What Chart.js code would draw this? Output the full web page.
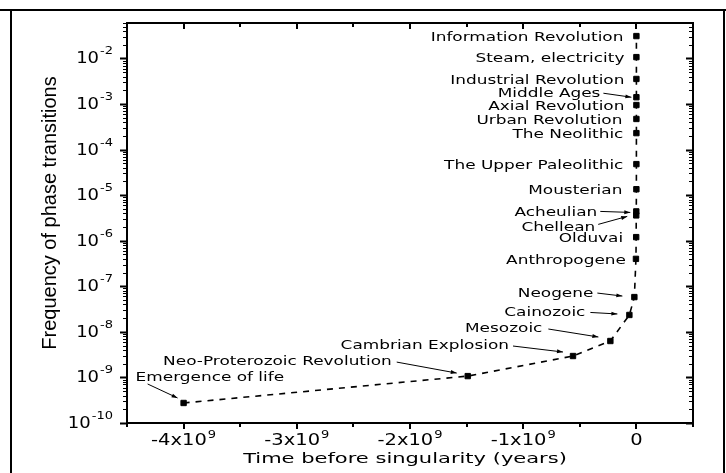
<!DOCTYPE html>
<html>
<head>
<meta charset="utf-8">
<script src="https://cdn.jsdelivr.net/npm/chart.js@4.4.1/dist/chart.umd.min.js"></script>
<style>
html,body{margin:0;padding:0;background:#fff;}
#wrap{position:relative;width:726px;height:473px;}
</style>
</head>
<body>
<div id="wrap"><canvas id="c"></canvas></div>
<script>
// ---------- data ----------
const eventNames = ['Emergence of life','Neo-Proterozoic Revolution','Cambrian Explosion','Mesozoic','Cainozoic','Neogene','Anthropogene','Olduvai','Chellean','Acheulian','Mousterian','The Upper Paleolithic','The Neolithic','Urban Revolution','Axial Revolution','Middle Ages','Industrial Revolution','Steam, electricity','Information Revolution'];
const eventTimes = [-4.0e9,-1.49e9,-5.6e8,-2.3e8,-6.2e7,-1.8e7,-4e6,-2e6,-1.5e6,-1e6,-1.5e5,-4e4,-1e4,-5e3,-2.5e3,-1.2e3,-250,-120,-50];
const eventFreqs = [2.75e-10,1.07e-9,2.95e-9,6.3e-9,2.35e-8,5.8e-8,4.0e-7,1.2e-6,3.6e-6,4.4e-6,1.35e-5,4.8e-5,2.3e-4,4.7e-4,9.5e-4,1.41e-3,3.55e-3,1.07e-2,3.1e-2];
const xTickValues = [-4e9,-3e9,-2e9,-1e9,0];
const xTickBase = ['-4x10','-3x10','-2x10','-1x10','0'];
const xTickExp = ['9','9','9','9',''];
const yTickValues = [1e-10,1e-9,1e-8,1e-7,1e-6,1e-5,1e-4,1e-3,1e-2];
const yTickExp = ['-10','-9','-8','-7','-6','-5','-4','-3','-2'];
const xTitle = 'Time before singularity (years)';
const yTitle = 'Frequency of phase transitions';

// ---------- label layout (offsets from each marker, px) ----------
// [align, textX, textY, arrowX1, arrowY1, arrowX2, arrowY2]  (arrow omitted when null)
const labelLayout = [
  ['left', -48, -27, -36, -19, -6, -5],
  ['right', -76, -16, -71, -14, -11, -3],
  ['right', -64, -12, -60, -10, -10, -4],
  ['right', -68, -14, -62, -12, -12, -4],
  ['right', -44, -4, -39, -2.5, -12, -1],
  ['right', -41, -5, -37, -4, -12, -1],
  ['right', -10, 0, null],
  ['right', -13, 0, null],
  ['right', -41, 11, -38, 9, -9, 1],
  ['right', -39, 0, -36, 0, -6, 1],
  ['right', -14, 0, null],
  ['right', -13, 0, null],
  ['right', -13, 0, null],
  ['right', -14, 0, null],
  ['right', -12, 0, null],
  ['right', -36, -5, -33, -4, -5, 0],
  ['right', -12, 0, null],
  ['right', -12, 0, null],
  ['right', -13, 0, null]
];

const FONT = '"DejaVu Sans", Verdana, sans-serif';

function stretchText(ctx, s, x, y, font, align, sx) {
  ctx.save();
  ctx.font = font;
  ctx.textBaseline = 'alphabetic';
  ctx.textAlign = 'left';
  const w = ctx.measureText(s).width * sx;
  let x0 = x;
  if (align === 'right') x0 = x - w;
  else if (align === 'center') x0 = x - w / 2;
  ctx.translate(x0, y);
  ctx.scale(sx, 1);
  ctx.fillText(s, 0, 0);
  ctx.restore();
  return w;
}
function textWidth(ctx, s, font, sx) {
  ctx.save(); ctx.font = font; const w = ctx.measureText(s).width * sx; ctx.restore(); return w;
}
function arrow(ctx, x1, y1, x2, y2) {
  ctx.beginPath(); ctx.moveTo(x1, y1); ctx.lineTo(x2, y2); ctx.stroke();
  const a = Math.atan2(y2 - y1, x2 - x1), L = 6, W = 2;
  ctx.beginPath();
  ctx.moveTo(x2, y2);
  ctx.lineTo(x2 - L * Math.cos(a) + W * Math.sin(a), y2 - L * Math.sin(a) - W * Math.cos(a));
  ctx.lineTo(x2 - L * Math.cos(a) - W * Math.sin(a), y2 - L * Math.sin(a) + W * Math.cos(a));
  ctx.closePath(); ctx.fill();
}

const decor = {
  id: 'decor',
  afterDraw(chart) {
    const ctx = chart.ctx, a = chart.chartArea;
    const xs = chart.scales.x, ys = chart.scales.y;
    ctx.save();
    ctx.strokeStyle = '#000'; ctx.fillStyle = '#000';

    // outer frame
    ctx.lineWidth = 2;
    ctx.beginPath();
    ctx.moveTo(0, 10); ctx.lineTo(726, 10);
    ctx.moveTo(11, 10); ctx.lineTo(11, 473);
    ctx.moveTo(724, 10); ctx.lineTo(724, 473);
    ctx.stroke();

    // plot box
    ctx.lineWidth = 2;
    ctx.strokeRect(a.left, a.top, a.right - a.left, a.bottom - a.top);

    // x ticks (bottom outward, top inward)
    ctx.lineWidth = 2;
    const xMin = xs.min, xMax = xs.max;
    for (let v = xMin; v <= xMax + 1; v += 5e8) {
      const major = xTickValues.some(t => Math.abs(t - v) < 1);
      const len = major ? 6 : 4;
      const px = Math.round(xs.getPixelForValue(v));
      ctx.beginPath();
      ctx.moveTo(px, a.bottom); ctx.lineTo(px, a.bottom + len);
      ctx.moveTo(px, a.top); ctx.lineTo(px, a.top + len);
      ctx.stroke();
    }
    // y ticks (left outward, right inward)
    for (let e = -10; e <= -2; e++) {
      for (let k = 1; k <= 9; k++) {
        const v = k * Math.pow(10, e);
        if (v > ys.max * 1.0001 || v < ys.min * 0.9999) continue;
        const py = Math.round(ys.getPixelForValue(v)) + 0.5;
        const len = k === 1 ? 7 : 4;
        ctx.lineWidth = k === 1 ? 2 : 1;
        ctx.beginPath();
        ctx.moveTo(a.left, py); ctx.lineTo(a.left - len, py);
        ctx.moveTo(a.right, py); ctx.lineTo(a.right - len, py);
        ctx.stroke();
      }
    }

    // y tick labels
    const baseFont = '15px ' + FONT, supFont = '10px ' + FONT;
    yTickValues.forEach((v, i) => {
      const py = ys.getPixelForValue(v);
      const right = a.left - 14;
      const ws = textWidth(ctx, yTickExp[i], supFont, 1.3);
      stretchText(ctx, yTickExp[i], right, py - 4, supFont, 'right', 1.3);
      stretchText(ctx, '10', right - ws - 1, py + 5, baseFont, 'right', 1.2);
    });
    // x tick labels
    xTickValues.forEach((v, i) => {
      const px = xs.getPixelForValue(v);
      const wb = textWidth(ctx, xTickBase[i], baseFont, 1.3);
      const we = xTickExp[i] ? textWidth(ctx, xTickExp[i], supFont, 1.3) + 1 : 0;
      const x0 = px - (wb + we) / 2;
      stretchText(ctx, xTickBase[i], x0, a.bottom + 22, baseFont, 'left', 1.3);
      if (xTickExp[i]) stretchText(ctx, xTickExp[i], x0 + wb + 1, a.bottom + 15, supFont, 'left', 1.3);
    });

    // axis titles
    stretchText(ctx, xTitle, (a.left + a.right) / 2 - 5, a.bottom + 40, '14px ' + FONT, 'center', 1.5);
    ctx.save();
    ctx.translate(50, 213);
    ctx.rotate(-Math.PI / 2);
    ctx.font = '20px "Liberation Sans", Arial, sans-serif';
    ctx.textAlign = 'center'; ctx.textBaseline = 'middle';
    ctx.fillText(yTitle, 0, 0);
    ctx.restore();

    // event labels
    const lf = '13px ' + FONT;
    ctx.lineWidth = 1;
    eventNames.forEach((name, i) => {
      const px = xs.getPixelForValue(eventTimes[i]);
      const py = ys.getPixelForValue(eventFreqs[i]);
      const L = labelLayout[i];
      stretchText(ctx, name, px + L[1], py + L[2] + 5, lf, L[0], 1.3);
      if (L[3] !== null && L.length > 4) arrow(ctx, px + L[3], py + L[4], px + L[5], py + L[6]);
    });
    ctx.restore();
  }
};

new Chart(document.getElementById('c'), {
  type: 'line',
  data: {
    datasets: [{
      data: eventTimes.map((t, i) => ({ x: t, y: eventFreqs[i] })),
      borderColor: '#000',
      backgroundColor: '#000',
      borderWidth: 1.6,
      borderDash: [6, 6],
      pointStyle: 'rect',
      pointRadius: 3.8,
      pointBorderWidth: 1,
      pointBackgroundColor: '#000',
      pointBorderColor: '#000',
      tension: 0,
      fill: false
    }]
  },
  options: {
    responsive: true,
    maintainAspectRatio: false,
    animation: false,
    events: [],
    layout: { padding: { left: 127, right: 33, top: 23, bottom: 50 } },
    plugins: { legend: { display: false }, tooltip: { enabled: false } },
    scales: {
      x: { type: 'linear', display: false, min: -4.5e9, max: 0.5e9 },
      y: { type: 'logarithmic', display: false, min: 1e-10, max: 0.06 }
    }
  },
  plugins: [decor]
});
</script>
</body>
</html>
